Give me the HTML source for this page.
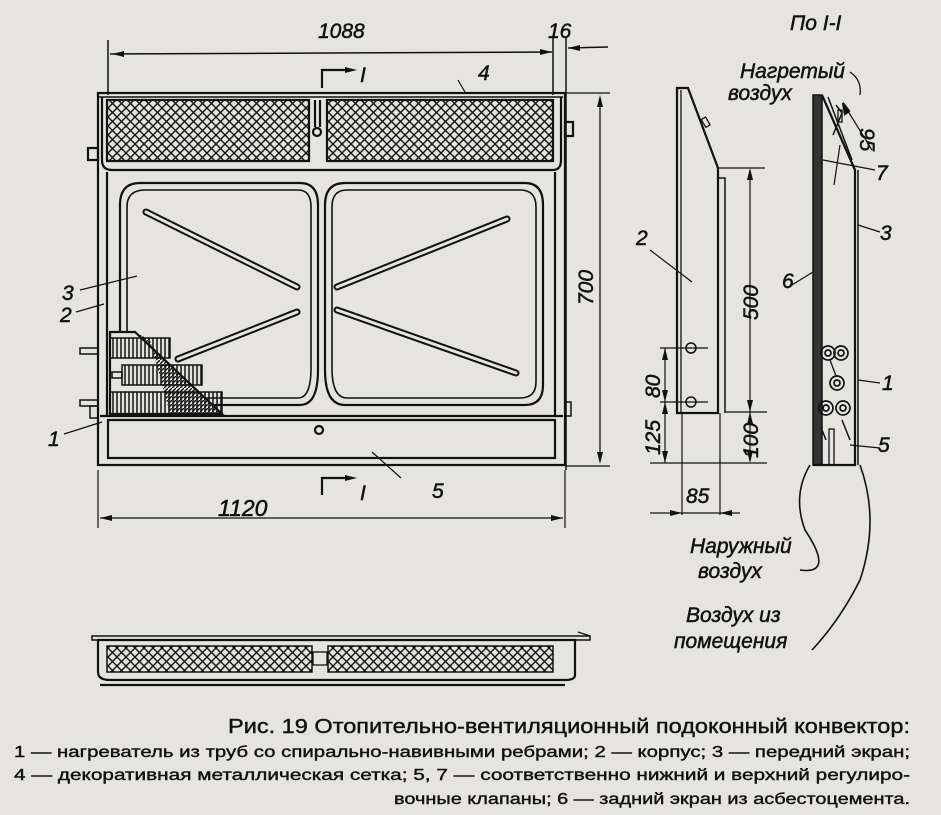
<!DOCTYPE html>
<html><head><meta charset="utf-8"><style>
html,body{margin:0;padding:0;background:#e6e4de;}
svg{display:block;}
text{font-family:"Liberation Sans","DejaVu Sans",sans-serif;fill:#111;}
.it{font-style:italic;}
</style></head><body>
<svg width="941" height="815" viewBox="0 0 941 815" xmlns="http://www.w3.org/2000/svg">
<defs>
<pattern id="mesh" width="9" height="9" patternUnits="userSpaceOnUse">
<path d="M0 0L9 9M9 0L0 9" stroke="#111" stroke-width="1.4"/>
</pattern>
<pattern id="fin" width="4" height="10" patternUnits="userSpaceOnUse">
<path d="M1 0V10" stroke="#111" stroke-width="1.5"/>
</pattern>
<pattern id="hat" width="4" height="4" patternUnits="userSpaceOnUse">
<path d="M0 4L4 0" stroke="#111" stroke-width="1.4"/>
</pattern>
</defs>
<rect width="941" height="815" fill="#e6e4de"/>
<g stroke="#111" fill="none" stroke-width="2.2">
<line x1="108" y1="40" x2="108" y2="95" stroke-width="1.5"/>
<line x1="553" y1="38" x2="553" y2="95" stroke-width="1.5"/>
<line x1="566" y1="38" x2="566" y2="470" stroke-width="1.5"/>
<line x1="110" y1="54" x2="552" y2="52" stroke-width="1.5"/>
<path d="M112 54l12-3v6zM552 52l-12-3v6z" fill="#111" stroke="none"/>
<line x1="608" y1="47" x2="568" y2="48" stroke-width="1.5"/>
<path d="M568 48l12-3v6z" fill="#111" stroke="none"/>
<path d="M322 88V70H345" /><path d="M345 67l12 3-12 3z" fill="#111" stroke="none"/>
<rect x="98" y="93" width="467" height="372"/>
<path d="M98 97H563" stroke-width="1.5"/>
<path d="M102 97V160Q102 170 112 170H553Q561 170 561 160V97"/>
<rect x="107" y="100" width="202" height="61" fill="url(#mesh)"/>
<rect x="327" y="100" width="226" height="61" fill="url(#mesh)"/>
<path d="M315 100V127M320 100V127"/><circle cx="317" cy="132" r="4"/>
<line x1="107" y1="172" x2="107" y2="415"/><line x1="555" y1="172" x2="555" y2="415"/>
<rect x="88" y="148" width="10" height="12"/><rect x="565" y="122" width="8" height="14"/>
<path d="M140 183H300Q318 183 318 205V370Q318 405 300 405H140Q120 405 120 385V205Q120 183 140 183Z"/>
<path d="M145 190H298Q311 190 311 207V368Q311 398 298 398H145Q127 398 127 382V207Q127 190 145 190Z" stroke-width="1.6"/>
<path d="M345 183H525Q543 183 543 205V385Q543 405 525 405H345Q325 405 325 370V205Q325 183 345 183Z"/>
<path d="M347 190H520Q536 190 536 207V382Q536 398 520 398H347Q332 398 332 368V207Q332 190 347 190Z" stroke-width="1.6"/>
<g stroke-width="7" stroke-linecap="round"><line x1="146" y1="212" x2="297" y2="287"/><line x1="337" y1="287" x2="507" y2="219"/><line x1="337" y1="310" x2="516" y2="373"/><line x1="178" y1="359" x2="297" y2="312"/></g>
<g stroke="#e6e4de" stroke-width="3" stroke-linecap="round"><line x1="146" y1="212" x2="297" y2="287"/><line x1="337" y1="287" x2="507" y2="219"/><line x1="337" y1="310" x2="516" y2="373"/><line x1="178" y1="359" x2="297" y2="312"/></g>
<path d="M110 332H135L222 414H110Z" fill="#e6e4de"/>
<rect x="110" y="392" width="112" height="22" fill="url(#fin)" stroke-width="1.5"/>
<rect x="122" y="365" width="80" height="20" fill="url(#fin)" stroke-width="1.5"/>
<rect x="110" y="338" width="60" height="20" fill="url(#fin)" stroke-width="1.5"/>
<path d="M135 332L222 414H170L150 340Z" fill="url(#hat)" stroke="none"/>
<path d="M110 332H135L222 414" stroke-width="1.5"/>
<rect x="80" y="348" width="18" height="6" stroke-width="1.5"/><rect x="112" y="372" width="10" height="6" stroke-width="1.5"/><rect x="80" y="400" width="18" height="6" stroke-width="1.5"/><rect x="90" y="406" width="8" height="12" stroke-width="1.5"/><rect x="565" y="402" width="6" height="14" stroke-width="1.5"/>
<line x1="100" y1="416" x2="563" y2="416"/>
<rect x="108" y="420" width="447" height="38"/>
<circle cx="319" cy="430" r="4"/>
<path d="M80 290L137 276M76 312L104 304M64 434L102 422M465 92L458 80M372 452L401 478" stroke-width="1.2"/>
<path d="M566 93H610M566 466H610" stroke-width="1.2"/>
<line x1="600" y1="100" x2="600" y2="460" stroke-width="1.3"/>
<path d="M600 95l-3 12h6zM600 464l-3-12h6z" fill="#111" stroke="none"/>
<path d="M98 470V528M565 470V528" stroke-width="1.2"/>
<line x1="100" y1="518" x2="563" y2="518" stroke-width="1.3"/>
<path d="M100 518l12-3v6zM563 518l-12-3v6z" fill="#111" stroke="none"/>
<path d="M322 495V478H345" /><path d="M345 475l12 3-12 3z" fill="#111" stroke="none"/>
<path d="M677 88H688L718 168V413H677Z"/><line x1="681" y1="90" x2="681" y2="413" stroke-width="1.3"/>
<path d="M718 178H725V413" stroke-width="1.5"/>
<rect x="703" y="118" width="5" height="9" transform="rotate(-30 705 122)" stroke-width="1.3"/>
<path d="M718 168H765M725 412H767M650 463H767M660 348H708M660 402H708M682 413V515M720 413V515" stroke-width="1.2"/>
<circle cx="691" cy="348" r="5" stroke-width="1.5"/><circle cx="691" cy="402" r="5" stroke-width="1.5"/>
<line x1="750" y1="170" x2="750" y2="461" stroke-width="1.2"/>
<path d="M750 168l-3 12h6zM750 412l-3-12h6zM750 412l-3 12h6zM750 463l-3-12h6z" fill="#111" stroke="none"/>
<line x1="665" y1="348" x2="665" y2="463" stroke-width="1.2"/>
<path d="M665 348l-3 12h6zM665 402l-3-12h6zM665 402l-3 12h6zM665 463l-3-12h6z" fill="#111" stroke="none"/>
<line x1="650" y1="513" x2="740" y2="513" stroke-width="1.2"/>
<path d="M682 513l-12-3v6zM720 513l12-3v6z" fill="#111" stroke="none"/>
<path d="M650 250L692 282" stroke-width="1.2"/>
<rect x="813" y="95" width="9" height="370" fill="#333" stroke-width="1.5"/>
<path d="M822 95L855 170V465H813" />
<line x1="858" y1="170" x2="858" y2="465" stroke-width="1.5"/>
<path d="M828 97L852 160M836 105L842 113L833 135" stroke-width="1.5"/>
<rect x="838" y="110" width="4" height="12" stroke-width="1.3"/>
<path d="M823 160L875 170M858 225L880 232M787 288L813 272M858 380L880 383M850 445L880 448" stroke-width="1.2"/>
<path d="M834 185L840 145" stroke-width="1.2"/>
<path d="M843 103L872 150" stroke-width="1.2"/><path d="M843 103l2 11 4-3z" fill="#111"/>
<g stroke-width="1.7"><circle cx="828" cy="353" r="7"/><circle cx="828" cy="353" r="3"/><circle cx="841" cy="353" r="7"/><circle cx="841" cy="353" r="3"/><circle cx="837" cy="383" r="7"/><circle cx="837" cy="383" r="3"/><circle cx="826" cy="408" r="7"/><circle cx="826" cy="408" r="3"/><circle cx="843" cy="408" r="7"/><circle cx="843" cy="408" r="3"/></g>
<path d="M830 360L836 376" stroke-width="1.3"/>
<rect x="829" y="429" width="5" height="36" stroke-width="1.3"/>
<path d="M826 440L822 430M842 420L850 440" stroke-width="1.5"/>
<path d="M850 72Q862 80 860 95" stroke-width="1.3"/>
<path d="M810 465Q792 495 805 530Q835 575 800 570" stroke-width="1.6"/>
<path d="M860 465Q880 520 860 580Q840 620 812 650" stroke-width="1.6"/>
<path d="M92 636H590V640H92Z" stroke-width="1.5"/>
<path d="M98 640H575V675Q575 680 565 680H110Q98 680 98 672Z"/>
<line x1="100" y1="685" x2="565" y2="685"/>
<rect x="107" y="646" width="205" height="26" fill="url(#mesh)" stroke-width="1.5"/>
<rect x="328" y="646" width="225" height="26" fill="url(#mesh)" stroke-width="1.5"/>
<rect x="313" y="652" width="14" height="13" stroke-width="1.3"/>
<path d="M578 632L590 636" stroke-width="1.3"/>
</g>
<g class="it" font-size="21" stroke="#111" stroke-width="0.5">
<text x="318" y="38">1088</text>
<text x="548" y="38">16</text>
<text x="360" y="82">I</text>
<text x="478" y="80">4</text>
<text x="62" y="300">3</text>
<text x="60" y="322">2</text>
<text x="48" y="446">1</text>
<text x="432" y="498">5</text>
<text x="360" y="500">I</text>
<text x="218" y="516" font-size="23">1120</text>
<text transform="translate(593 305) rotate(-90)">700</text>
<text transform="translate(758 320) rotate(-90)">500</text>
<text transform="translate(758 458) rotate(-90)">100</text>
<text transform="translate(660 398) rotate(-90)">80</text>
<text transform="translate(660 455) rotate(-90)">125</text>
<text x="686" y="503">85</text>
<text x="636" y="245">2</text>
<text x="790" y="30">По I-I</text>
<text x="740" y="78">Нагретый</text>
<text x="728" y="100">воздух</text>
<text transform="translate(860 128) rotate(90)">95</text>
<text x="876" y="180">7</text>
<text x="880" y="240">3</text>
<text x="782" y="288">6</text>
<text x="882" y="390">1</text>
<text x="878" y="452">5</text>
<text x="690" y="553">Наружный</text>
<text x="698" y="578">воздух</text>
<text x="686" y="622">Воздух из</text>
<text x="674" y="648">помещения</text>
</g>
<g font-family="Liberation Sans Narrow,Liberation Sans,sans-serif" stroke="#111" stroke-width="0.4">
<text x="228" y="733" font-size="20" textLength="682" lengthAdjust="spacingAndGlyphs">Рис. 19  Отопительно-вентиляционный подоконный конвектор:</text>
<text x="14" y="757" font-size="16" textLength="896" lengthAdjust="spacingAndGlyphs">1 — нагреватель из труб со спирально-навивными ребрами;  2 — корпус;  3 — передний  экран;</text>
<text x="14" y="780" font-size="16" textLength="896" lengthAdjust="spacingAndGlyphs">4 — декоративная металлическая сетка;  5, 7 — соответственно  нижний и верхний  регулиро-</text>
<text x="394" y="804" font-size="16" textLength="516" lengthAdjust="spacingAndGlyphs">вочные клапаны; 6 — задний экран из асбестоцемента.</text>
</g>
</svg>
</body></html>
